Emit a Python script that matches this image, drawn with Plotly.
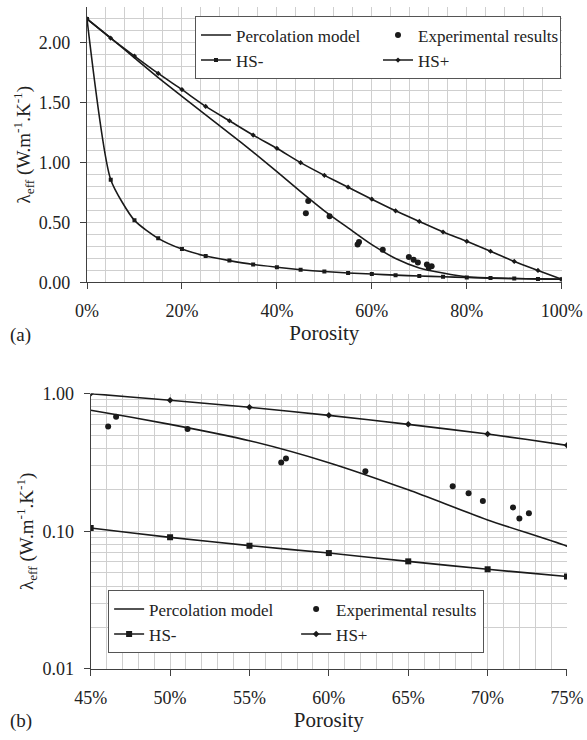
import plotly.graph_objects as go

# ---------------- data ----------------
porosity = [0.00, 0.05, 0.10, 0.15, 0.20, 0.25, 0.30, 0.35, 0.40, 0.45, 0.50,
            0.55, 0.60, 0.65, 0.70, 0.75, 0.80, 0.85, 0.90, 0.95, 1.00]
percolation = [2.20, 2.04, 1.875, 1.71, 1.554, 1.40, 1.245, 1.088, 0.925, 0.758, 0.598,
               0.455, 0.315, 0.200, 0.121, 0.078, 0.046, 0.037, 0.032, 0.029, 0.026]
hs_minus = [2.20, 0.858, 0.518, 0.368, 0.278, 0.220, 0.182, 0.150, 0.127, 0.1057, 0.0904,
            0.0787, 0.0695, 0.0605, 0.053, 0.0469, 0.041, 0.036, 0.032, 0.029, 0.026]
hs_plus = [2.20, 2.04, 1.89, 1.745, 1.61, 1.47, 1.35, 1.23, 1.12, 1.00, 0.894,
           0.795, 0.695, 0.598, 0.509, 0.421, 0.343, 0.260, 0.175, 0.100, 0.026]

exp_porosity = [0.461, 0.466, 0.511, 0.570, 0.573, 0.623, 0.678, 0.688, 0.697, 0.716, 0.720, 0.726]
exp_lambda = [0.578, 0.680, 0.553, 0.316, 0.338, 0.273, 0.212, 0.189, 0.166, 0.149, 0.124, 0.135]

xticks_a = [0, 0.2, 0.4, 0.6, 0.8, 1.0]
xticklabels_a = ["0%", "20%", "40%", "60%", "80%", "100%"]
yticks_a = [0, 0.5, 1.0, 1.5, 2.0]
yticklabels_a = ["0.00", "0.50", "1.00", "1.50", "2.00"]
xticks_b = [0.45, 0.50, 0.55, 0.60, 0.65, 0.70, 0.75]
xticklabels_b = ["45%", "50%", "55%", "60%", "65%", "70%", "75%"]
yticks_b = [0.01, 0.1, 1.0]
yticklabels_b = ["0.01", "0.10", "1.00"]

names = ["Percolation model", "Experimental results", "HS-", "HS+"]

FONT = "Liberation Serif, Times New Roman, DejaVu Serif, serif"
INK = "#1a1a1a"
GRID = "#cfcfcf"
AX = "#404040"
TXT = "#222222"

fig = go.Figure()

def add_panel(xa, ya, leg, msq, mpl, mexp):
    fig.add_trace(go.Scatter(x=porosity, y=percolation, name=names[0], mode="lines",
                             line=dict(color=INK, width=1.6, shape="spline", smoothing=0.7),
                             xaxis=xa, yaxis=ya, legend=leg))
    fig.add_trace(go.Scatter(x=exp_porosity, y=exp_lambda, name=names[1], mode="markers",
                             marker=dict(color=INK, size=mexp, symbol="circle"),
                             xaxis=xa, yaxis=ya, legend=leg))
    fig.add_trace(go.Scatter(x=porosity, y=hs_minus, name=names[2], mode="lines+markers",
                             line=dict(color=INK, width=1.6, shape="spline", smoothing=0.6),
                             marker=dict(color=INK, size=msq, symbol="square"),
                             xaxis=xa, yaxis=ya, legend=leg))
    fig.add_trace(go.Scatter(x=porosity, y=hs_plus, name=names[3], mode="lines+markers",
                             line=dict(color=INK, width=1.6, shape="spline", smoothing=0.6),
                             marker=dict(color=INK, size=mpl, symbol="diamond"),
                             xaxis=xa, yaxis=ya, legend=leg))

add_panel("x", "y", "legend", 4, 4, 6)
add_panel("x2", "y2", "legend2", 6, 5, 6)

common_ax = dict(showline=True, linecolor=AX, linewidth=1.2, ticks="outside", ticklen=6,
                 tickcolor=AX, showgrid=True, gridcolor=GRID, gridwidth=1, zeroline=False,
                 tickfont=dict(family=FONT, size=18, color=TXT),
                 ticklabelstandoff=6, automargin=False)

ytitle = "λ<sub>eff</sub> (W.m<sup>-1</sup>.K<sup>-1</sup>)"

W, H = 587, 740
L, R, T, B = 87, 20, 7, 71
pw, ph = W - L - R, H - T - B
def px_to_paper(px, py):
    return (px - L) / pw, (H - B - py) / ph

fig.update_layout(
    width=W, height=H,
    margin=dict(l=L, r=R, t=T, b=B, autoexpand=False),
    paper_bgcolor="white", plot_bgcolor="white",
    font=dict(family=FONT, size=17, color=TXT),
    xaxis=dict(domain=[0, 0.989], anchor="y", range=[0, 1],
               tickvals=xticks_a, ticktext=xticklabels_a,
               minor=dict(dtick=0.04, showgrid=True, gridcolor=GRID, ticks=""),
               title=dict(text="Porosity", font=dict(family=FONT, size=21, color=TXT), standoff=4),
               **common_ax),
    yaxis=dict(domain=[0.584, 1], anchor="x", range=[0, 2.3],
               tickvals=yticks_a, ticktext=yticklabels_a,
               minor=dict(dtick=0.1, showgrid=True, gridcolor=GRID, ticks=""),
               title=dict(text=ytitle, font=dict(family=FONT, size=19, color=TXT), standoff=3),
               **common_ax),
    xaxis2=dict(domain=[0.0077, 1], anchor="y2", range=[0.45, 0.75],
                tickvals=xticks_b, ticktext=xticklabels_b,
                minor=dict(dtick=0.01, showgrid=True, gridcolor=GRID, ticks=""),
                title=dict(text="Porosity", font=dict(family=FONT, size=21, color=TXT), standoff=4),
                **common_ax),
    yaxis2=dict(domain=[0, 0.416], anchor="x2", type="log", range=[-2, 0],
                tickvals=yticks_b, ticktext=yticklabels_b,
                minor=dict(dtick="D1", showgrid=True, gridcolor=GRID, ticks=""),
                title=dict(text=ytitle, font=dict(family=FONT, size=19, color=TXT), standoff=3),
                **common_ax),
    legend=dict(x=0.225, y=0.9858, xanchor="left", yanchor="top", orientation="h",
                entrywidth=137, itemwidth=30, bgcolor="white", bordercolor="#555", borderwidth=1,
                tracegroupgap=0,
                font=dict(family=FONT, size=17, color=TXT)),
    legend2=dict(x=0.044, y=0.1187, xanchor="left", yanchor="top", orientation="h",
                 entrywidth=142, itemwidth=30, bgcolor="white", bordercolor="#555", borderwidth=1,
                 tracegroupgap=0,
                 font=dict(family=FONT, size=17, color=TXT)),
    showlegend=True,
)

ax_, ay_ = px_to_paper(8, 335)
bx_, by_ = px_to_paper(8, 721)
fig.add_annotation(text="(a)", x=ax_, y=ay_, xref="paper", yref="paper", showarrow=False,
                   xanchor="left", yanchor="middle", font=dict(family=FONT, size=19, color=TXT))
fig.add_annotation(text="(b)", x=bx_, y=by_, xref="paper", yref="paper", showarrow=False,
                   xanchor="left", yanchor="middle", font=dict(family=FONT, size=19, color=TXT))

fig.write_html("out.html")
